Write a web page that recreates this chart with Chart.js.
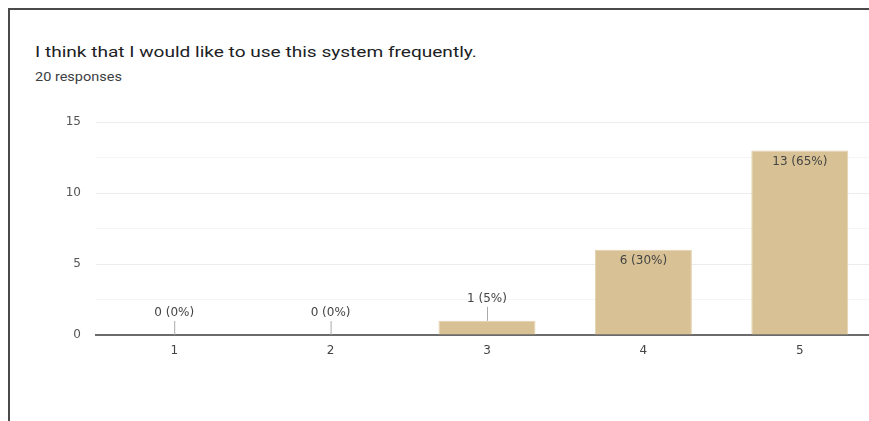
<!DOCTYPE html>
<html>
<head>
<meta charset="utf-8">
<script src="https://cdn.jsdelivr.net/npm/chart.js@4"></script>
<style>
  html, body { margin: 0; padding: 0; background: #fff; overflow: hidden; }
  body { width: 869px; height: 421px; position: relative; font-family: Roboto, Arial, sans-serif; }
  #card { position: absolute; left: 8px; top: 8px; width: 900px; height: 430px;
          border-top: 2px solid #4a4a4a; border-left: 2px solid #4a4a4a; }
  #title { position: absolute; left: 35px; top: 42.5px; font-size: 15.5px; color: #202124; white-space: nowrap;
           transform: scaleX(1.23); transform-origin: 0 0; }
  #sub { position: absolute; left: 35px; top: 68.5px; font-size: 12.5px; color: #3c4043; white-space: nowrap;
         transform: scaleX(1.16); transform-origin: 0 0; }
  #wrap { position: absolute; left: 0; top: 0; width: 880px; height: 421px; }
</style>
</head>
<body>
<div id="card"></div>
<div id="title">I think that I would like to use this system frequently.</div>
<div id="sub">20 responses</div>
<div id="wrap"><canvas id="c" width="880" height="421"></canvas></div>
<script>
// Answer scale and number of responses for each answer
const categories = ['1', '2', '3', '4', '5'];
const counts = [0, 0, 1, 6, 13];
const totalResponses = 20;
const yTicks = [0, 5, 10, 15];

const barColor = '#d8c295';
const chartFont = '"DejaVu Sans", Roboto, Arial, sans-serif';

// Writes "n (p%)" over each bar: inside the top of tall bars, above a short leader line for small ones
const valueLabels = {
  id: 'valueLabels',
  afterDatasetsDraw(chart) {
    const ctx = chart.ctx;
    const meta = chart.getDatasetMeta(0);
    ctx.save();
    ctx.font = '12px ' + chartFont;
    ctx.textAlign = 'center';
    ctx.textBaseline = 'middle';
    meta.data.forEach((bar, i) => {
      const v = counts[i];
      const pct = Math.round(v / totalResponses * 100);
      const text = v + ' (' + pct + '%)';
      const x = bar.x, top = bar.y;
      if (bar.base - top > 30) {
        ctx.fillStyle = '#444';
        ctx.fillText(text, x, top + 11);
      } else {
        ctx.strokeStyle = '#aaa';
        ctx.lineWidth = 1;
        ctx.beginPath();
        ctx.moveTo(x + 0.5, top);
        ctx.lineTo(x + 0.5, top - 14);
        ctx.stroke();
        ctx.fillStyle = '#444';
        ctx.fillText(text, x, top - 22);
      }
    });
    ctx.restore();
  }
};

new Chart(document.getElementById('c'), {
  type: 'bar',
  data: {
    labels: categories,
    datasets: [{
      data: counts,
      backgroundColor: barColor,
      borderColor: '#e3d1ab',
      borderWidth: 1,
      barPercentage: 0.62,
      categoryPercentage: 1
    }]
  },
  options: {
    responsive: false,
    animation: false,
    events: [],
    layout: { padding: { top: 122, right: 2, left: 0, bottom: 0 } },
    plugins: { legend: { display: false }, tooltip: { enabled: false } },
    scales: {
      x: {
        afterFit(s) { s.height = 86; },
        grid: { display: false, drawTicks: false },
        border: { display: true, color: '#6b6b6b', width: 2 },
        ticks: { color: '#444', padding: 9, font: { size: 12, family: chartFont } }
      },
      y: {
        min: 0,
        max: 15,
        afterFit(s) { s.width = 96; },
        afterBuildTicks(s) {
          s.ticks = [0, 2.5, 5, 7.5, 10, 12.5, 15].map(v => ({ value: v }));
        },
        border: { display: false },
        grid: {
          drawTicks: false,
          color: ctx => (yTicks.includes(ctx.tick.value) ? '#ececec' : '#f5f5f5'),
          lineWidth: 1
        },
        ticks: {
          padding: 15,
          color: '#555',
          font: { size: 12, family: chartFont },
          callback: v => (yTicks.includes(v) ? String(v) : '')
        }
      }
    }
  },
  plugins: [valueLabels]
});
</script>
</body>
</html>
